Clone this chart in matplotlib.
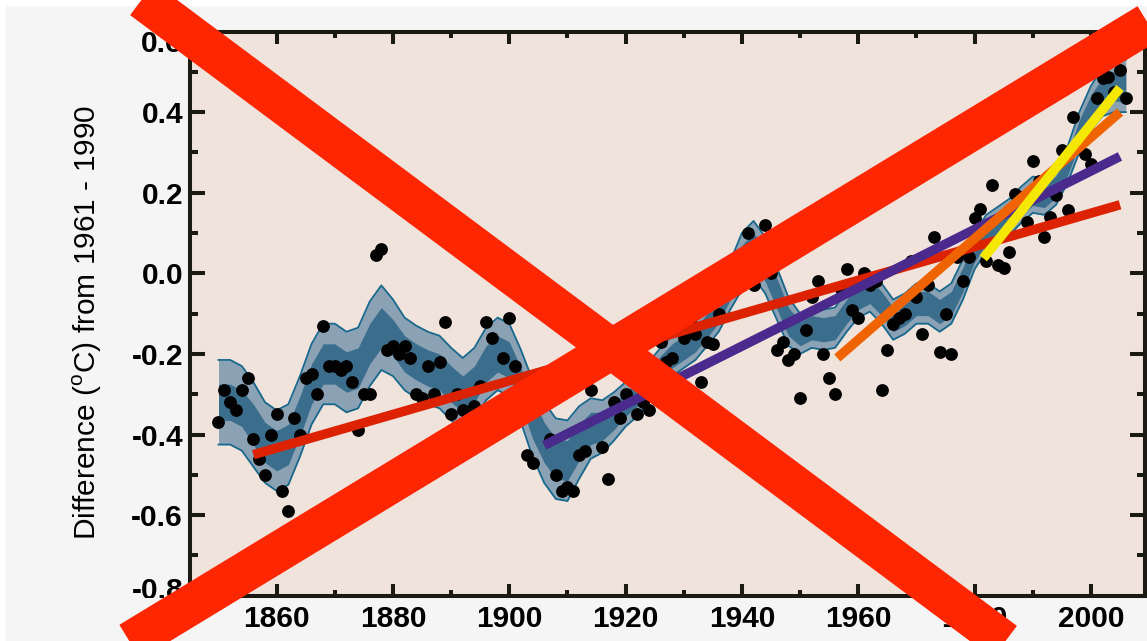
import numpy as np
import matplotlib
matplotlib.use("Agg")
import matplotlib.pyplot as plt
from matplotlib.lines import Line2D
from matplotlib.patches import Rectangle
from matplotlib.ticker import MultipleLocator
from matplotlib.transforms import ScaledTranslation, Bbox, TransformedBbox

plt.rcParams['font.family'] = ['Liberation Sans', 'DejaVu Sans']
plt.rcParams['mathtext.fontset'] = 'custom'
plt.rcParams['mathtext.rm'] = 'Liberation Sans'

# ---------------- DATA ---------------- #

# annual global temperature anomalies (dots)
years = list(range(1850, 2007))
anomaly = [
    -0.37, -0.29, -0.32, -0.34, -0.29, -0.26, -0.41, -0.46, -0.50, -0.40,   # 1850s
    -0.35, -0.54, -0.59, -0.36, -0.40, -0.26, -0.25, -0.30, -0.13, -0.23,   # 1860s
    -0.23, -0.24, -0.23, -0.27, -0.39, -0.30, -0.30, 0.045, 0.06, -0.19,    # 1870s
    -0.18, -0.20, -0.18, -0.21, -0.30, -0.31, -0.23, -0.30, -0.22, -0.12,   # 1880s
    -0.35, -0.30, -0.34, -0.36, -0.33, -0.28, -0.12, -0.16, -0.33, -0.21,   # 1890s
    -0.11, -0.23, -0.34, -0.45, -0.47, -0.32, -0.28, -0.41, -0.50, -0.54,   # 1900s
    -0.53, -0.54, -0.45, -0.44, -0.29, -0.20, -0.43, -0.51, -0.32, -0.36,   # 1910s
    -0.30, -0.25, -0.35, -0.32, -0.34, -0.27, -0.17, -0.22, -0.21, -0.30,   # 1920s
    -0.16, -0.12, -0.15, -0.27, -0.17, -0.175, -0.10, -0.02, 0.00, -0.04,   # 1930s
    0.02, 0.10, -0.03, 0.00, 0.12, 0.00, -0.19, -0.17, -0.215, -0.20,       # 1940s
    -0.31, -0.14, -0.06, -0.02, -0.20, -0.26, -0.30, -0.04, 0.01, -0.09,    # 1950s
    -0.11, 0.00, -0.03, -0.02, -0.29, -0.19, -0.125, -0.11, -0.10, 0.03,    # 1960s
    -0.06, -0.15, -0.03, 0.09, -0.195, -0.10, -0.20, 0.04, -0.02, 0.04,     # 1970s
    0.136, 0.16, 0.03, 0.218, 0.02, 0.012, 0.053, 0.198, 0.19, 0.128,       # 1980s
    0.279, 0.23, 0.09, 0.14, 0.194, 0.307, 0.156, 0.388, 0.53, 0.297,       # 1990s
    0.27, 0.434, 0.484, 0.488, 0.45, 0.504, 0.434,                          # 2000s
]

# smoothed (decadal) curve and its uncertainty bands
smooth_years = list(range(1850, 2007, 2))
smooth_mid = [
    -0.32, -0.32, -0.335, -0.375, -0.42, -0.44, -0.425, -0.355, -0.275, -0.225,
    -0.225, -0.245, -0.235, -0.175, -0.135, -0.16, -0.20, -0.22, -0.235, -0.245,
    -0.275, -0.30, -0.275, -0.225, -0.20, -0.215, -0.28, -0.36, -0.42, -0.46,
    -0.465, -0.42, -0.385, -0.38, -0.355, -0.325, -0.30, -0.27, -0.235, -0.205,
    -0.185, -0.165, -0.13, -0.09, -0.03, 0.03, 0.06, 0.02, -0.05, -0.12,
    -0.15, -0.135, -0.14, -0.135, -0.095, -0.06, -0.045, -0.075, -0.115, -0.10,
    -0.075, -0.075, -0.095, -0.075, -0.015, 0.055, 0.10, 0.12, 0.14, 0.17,
    0.195, 0.19, 0.215, 0.27, 0.35, 0.41, 0.45, 0.465, 0.465,
]
outer_half = [
    0.105, 0.105, 0.105, 0.105, 0.10, 0.10, 0.10, 0.10, 0.10, 0.10,
    0.10, 0.10, 0.10, 0.105, 0.105, 0.095, 0.09, 0.09, 0.09, 0.09,
    0.09, 0.09, 0.09, 0.09, 0.09, 0.09, 0.09, 0.095, 0.10, 0.10,
    0.10, 0.09, 0.075, 0.065, 0.06, 0.055, 0.055, 0.05, 0.05, 0.05,
    0.05, 0.05, 0.05, 0.055, 0.06, 0.07, 0.07, 0.07, 0.065, 0.06,
    0.05, 0.05, 0.05, 0.05, 0.05, 0.05, 0.05, 0.05, 0.05, 0.05,
    0.05, 0.05, 0.05, 0.05, 0.05, 0.045, 0.045, 0.045, 0.045, 0.045,
    0.045, 0.045, 0.045, 0.045, 0.05, 0.055, 0.06, 0.065, 0.065,
]
inner_half = [
    0.045, 0.045, 0.045, 0.05, 0.05, 0.05, 0.05, 0.05, 0.05, 0.05,
    0.05, 0.05, 0.05, 0.05, 0.05, 0.045, 0.045, 0.045, 0.045, 0.045,
    0.045, 0.045, 0.045, 0.045, 0.045, 0.045, 0.045, 0.05, 0.05, 0.05,
    0.05, 0.045, 0.04, 0.035, 0.033, 0.03, 0.03, 0.03, 0.03, 0.03,
    0.03, 0.03, 0.03, 0.033, 0.035, 0.04, 0.04, 0.04, 0.038, 0.035,
    0.03, 0.03, 0.03, 0.03, 0.03, 0.03, 0.03, 0.03, 0.03, 0.03,
    0.03, 0.03, 0.03, 0.03, 0.03, 0.027, 0.027, 0.027, 0.027, 0.027,
    0.027, 0.027, 0.027, 0.027, 0.03, 0.033, 0.035, 0.038, 0.038,
]

# linear trends: 150, 100, 50 and 25 years
trend_start = [1856, 1906, 1956.4, 1981.5]
trend_end = [2005, 2005, 2005, 2005]
trend_v0 = [-0.45, -0.427, -0.21, 0.037]
trend_v1 = [0.17, 0.29, 0.40, 0.46]
trend_colors = ['#dc2200', '#4a2a8c', '#ef6400', '#f5e800']

# ---------------- FIGURE ---------------- #

W, H = 1147, 641
fig = plt.figure(figsize=(W / 100, H / 100), dpi=100, facecolor='white')
fig.patches.append(Rectangle((6 / W, 0), 1, (H - 6) / H, transform=fig.transFigure,
                             color='#f5f5f5', zorder=-5))

ax = fig.add_axes([190 / W, (H - 595.7) / H, (1145 - 190) / W, (595.7 - 31.5) / H])
ax.set_facecolor('#f0e3dc')

mid = np.array(smooth_mid)
ho = np.array(outer_half)
hi = np.array(inner_half)
ax.fill_between(smooth_years, mid - ho, mid + ho, color='#8ba2b5', lw=0, zorder=2)
ax.fill_between(smooth_years, mid - hi, mid + hi, color='#3b6e8c', lw=0, zorder=2.1)
ax.plot(smooth_years, mid + ho, color='#17688c', lw=1.3, zorder=2.2)
ax.plot(smooth_years, mid - ho, color='#17688c', lw=1.3, zorder=2.2)

ax.scatter(years, anomaly, s=85, color='black', lw=0, zorder=3)

for x0, x1, v0, v1, c in zip(trend_start, trend_end, trend_v0, trend_v1, trend_colors):
    ax.plot([x0, x1], [v0, v1], color=c, lw=6.8, solid_capstyle='butt', zorder=4)

ax.set_xlim(1845.1, 2009.3)
ax.set_ylim(-0.8, 0.6)
ax.set_xticks([1860, 1880, 1900, 1920, 1940, 1960, 1980, 2000])
ax.set_yticks([-0.8, -0.6, -0.4, -0.2, 0.0, 0.2, 0.4, 0.6])
ax.set_yticklabels(['-0.8', '-0.6', '-0.4', '-0.2', '0.0', '0.2', '0.4', '0.6'])
ax.xaxis.set_minor_locator(MultipleLocator(10))
ax.yaxis.set_minor_locator(MultipleLocator(0.1))

for s in ax.spines.values():
    s.set_linewidth(2.9)
    s.set_color('#1a1a12')
ax.tick_params(which='both', direction='in', top=True, right=True, color='#1a1a12',
               width=2.9, labelsize=21.5, labelcolor='black')
ax.tick_params(axis='y', which='major', length=11, pad=5)
ax.tick_params(axis='y', which='minor', length=6)
ax.tick_params(axis='x', which='major', length=8.5, pad=7)
ax.tick_params(axis='x', which='minor', length=4.5)
for lab in ax.get_xticklabels() + ax.get_yticklabels():
    lab.set_fontweight('bold')

ax.set_ylabel(r"Difference ($^{\mathrm{o}}$C) from 1961 - 1990", fontsize=21.5)
ax.yaxis.set_label_coords(-0.090, 0.485)

# y labels stay inside the frame in the original
ylabs = ax.get_yticklabels()
ylabs[-1].set_transform(ylabs[-1].get_transform() + ScaledTranslation(0, -10 / 100, fig.dpi_scale_trans))
ylabs[0].set_transform(ylabs[0].get_transform() + ScaledTranslation(0, 8 / 100, fig.dpi_scale_trans))
clip = TransformedBbox(Bbox([[0, (H - 598) / H], [1, (H - 31.5) / H]]), fig.transFigure)
for lab in ylabs:
    lab.set_clip_box(clip)
    lab.set_clip_on(True)

# big red cross over the whole picture (centre lines in pixels, y down)
x_arms = [((143.5, 0.0), (1003.5, 641.0)),
          ((131.5, 641.0), (1147.0, 24.0))]
for (px0, py0), (px1, py1) in x_arms:
    d = np.array([px1 - px0, py1 - py0])
    d = d / np.hypot(*d) * 80
    xs = [(px0 - d[0]) / W, (px1 + d[0]) / W]
    ys = [1 - (py0 - d[1]) / H, 1 - (py1 + d[1]) / H]
    fig.add_artist(Line2D(xs, ys, transform=fig.transFigure,
                          color='#ff2600', lw=29, solid_capstyle='butt', zorder=10))

fig.savefig('out.png', dpi=100, facecolor=fig.get_facecolor())
